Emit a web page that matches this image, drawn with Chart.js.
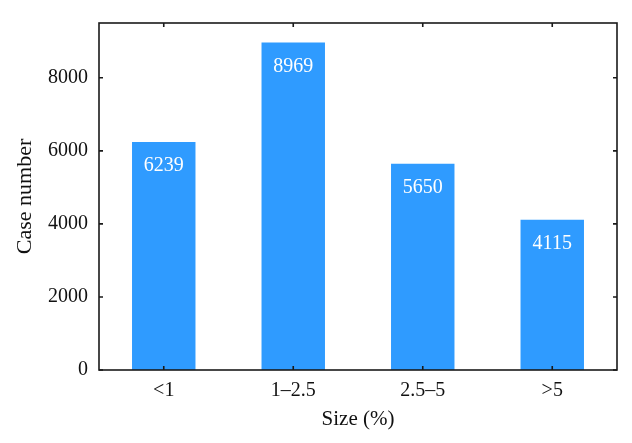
<!DOCTYPE html>
<html>
<head>
<meta charset="utf-8">
<script src="https://cdn.jsdelivr.net/npm/chart.js@4"></script>
<style>
  html, body { margin: 0; padding: 0; background: #fff; }
  #wrap { width: 632px; height: 443px; }
</style>
</head>
<body>
<div id="wrap"><canvas id="sizeChart" width="632" height="443"></canvas></div>
<script>
const categories = ['<1', '1\u20132.5', '2.5\u20135', '>5'];
const caseNumbers = [6239, 8969, 5650, 4115];
const yTicks = [0, 2000, 4000, 6000, 8000];
const yMax = 9500;

const serif = '"Liberation Serif", "DejaVu Serif", serif';
const barColor = '#2f9bff';

// frame round the plot area with short ticks pointing inward
const framePlugin = {
    id: 'frame',
    afterDatasetsDraw(chart) {
        const { ctx, chartArea: a, scales } = chart;
        ctx.save();
        ctx.strokeStyle = '#1a1a1a';
        ctx.lineWidth = 1.6;
        ctx.strokeRect(a.left, a.top, a.right - a.left, a.bottom - a.top);
        ctx.beginPath();
        yTicks.forEach(v => {
            const y = scales.y.getPixelForValue(v);
            ctx.moveTo(a.left, y); ctx.lineTo(a.left + 4, y);
            ctx.moveTo(a.right, y); ctx.lineTo(a.right - 4, y);
        });
        categories.forEach((c, i) => {
            const x = scales.x.getPixelForValue(i);
            ctx.moveTo(x, a.top); ctx.lineTo(x, a.top + 4);
            ctx.moveTo(x, a.bottom); ctx.lineTo(x, a.bottom - 4);
        });
        ctx.stroke();
        ctx.restore();
    }
};

// value written in white just under the top of each bar
const valuePlugin = {
    id: 'values',
    afterDatasetsDraw(chart) {
        const { ctx } = chart;
        const meta = chart.getDatasetMeta(0);
        ctx.save();
        ctx.fillStyle = '#ffffff';
        ctx.font = '20px ' + serif;
        ctx.textAlign = 'center';
        ctx.textBaseline = 'middle';
        meta.data.forEach((bar, i) => {
            ctx.fillText(String(caseNumbers[i]), bar.x, bar.y + 24);
        });
        ctx.restore();
    }
};

new Chart(document.getElementById('sizeChart'), {
    type: 'bar',
    data: {
        labels: categories,
        datasets: [{
            data: caseNumbers,
            backgroundColor: barColor,
            borderWidth: 0,
            barPercentage: 0.49,
            categoryPercentage: 1
        }]
    },
    options: {
        responsive: false,
        animation: false,
        devicePixelRatio: 1,
        layout: { padding: { top: 14, right: 15, left: 0, bottom: 0 } },
        plugins: { legend: { display: false }, tooltip: { enabled: false } },
        scales: {
            x: {
                grid: { display: false, drawTicks: false },
                border: { display: false },
                ticks: { color: '#111', font: { family: serif, size: 20 }, padding: 9 },
                title: {
                    display: true, text: 'Size (%)', color: '#111',
                    font: { family: serif, size: 21 }, padding: { top: 0, bottom: 11 }
                },
                afterFit(scale) { scale.height = 73; }
            },
            y: {
                min: 0,
                max: yMax,
                grid: { display: false, drawTicks: false },
                border: { display: false },
                afterBuildTicks(scale) { scale.ticks = yTicks.map(v => ({ value: v })); },
                ticks: {
                    color: '#111', font: { family: serif, size: 20 }, padding: 11,
                    callback: v => String(v)
                },
                title: {
                    display: true, text: 'Case number', color: '#111',
                    font: { family: serif, size: 22 }, padding: { top: 12, bottom: 0 }
                },
                afterFit(scale) { scale.width = 99; }
            }
        }
    },
    plugins: [framePlugin, valuePlugin]
});
</script>
</body>
</html>
